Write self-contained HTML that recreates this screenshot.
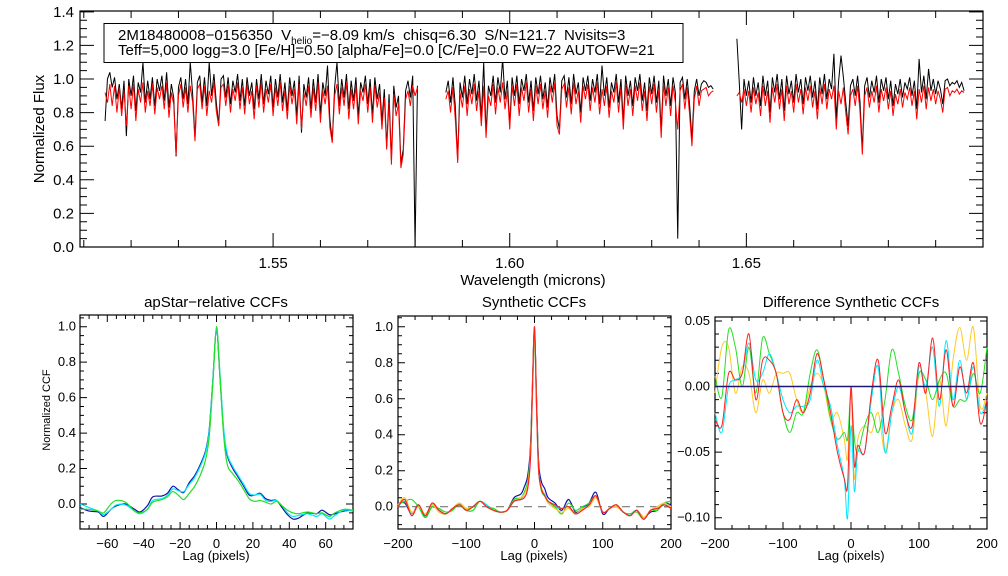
<!DOCTYPE html>
<html><head><meta charset="utf-8"><style>
html,body{margin:0;padding:0;background:#fff}
svg{display:block;font-family:"Liberation Sans",Helvetica,Arial,sans-serif}
</style></head><body>
<svg id="chart" width="1008" height="576" viewBox="0 0 1008 576" xmlns="http://www.w3.org/2000/svg">
<rect x="0" y="0" width="1008" height="576" fill="#fff"/>
<g id="top"></g>
<g id="p1"></g>
<g id="p2"></g>
<g id="p3"></g>
</svg>
<script>
// ---- spectrum data (flux x100), step 0.0005 micron ----
const chipStarts = [1.5145, 1.5865, 1.6480];
const waveStep = 0.0005;
const chip1Model = [92,86,97,84,96,80,95,78,93,72,96,82,97,75,94,86,98,80,93,84,97,79,95,88,96,82,98,77,92,85,55,90,97,83,95,80,96,86,63,94,97,82,96,78,93,86,98,81,72,95,97,84,96,80,94,87,98,82,95,79,97,85,93,76,96,83,98,80,94,86,97,78,95,84,98,81,93,76,96,85,94,73,97,70,92,84,96,77,95,81,98,74,93,85,96,71,62,90,97,79,95,84,98,76,94,82,96,73,93,87,97,80,95,74,96,83,92,70,89,58,86,49,91,78,85,47,55,88,93,84,96,90,95];
const chip1Obs = [75,100,104,95,101,88,97,82,99,66,100,90,102,81,98,92,110,86,99,88,101,84,100,93,102,87,104,83,97,89,54,95,101,88,100,85,110,91,65,98,102,86,101,84,110,90,103,86,73,100,102,89,101,85,99,92,103,87,100,84,101,90,98,82,100,88,103,85,99,91,102,83,100,89,103,86,98,81,101,90,99,78,102,68,97,89,101,82,100,86,103,79,98,90,108,76,63,95,110,84,100,89,103,82,99,87,101,78,98,92,102,85,100,79,101,88,97,75,94,60,91,52,96,83,90,50,58,93,99,89,102,0,96];
const chip2Model = [88,93,80,95,76,50,92,83,96,78,94,85,97,81,93,72,96,65,90,84,97,79,95,86,98,82,93,70,96,84,97,78,95,87,98,80,94,75,96,85,97,82,93,77,96,86,98,72,67,94,97,83,95,79,98,85,93,74,96,88,97,81,95,86,98,79,94,84,96,77,93,86,98,80,95,70,97,84,94,78,96,87,98,81,93,75,96,85,97,80,94,65,97,84,95,78,96,86,70,93,97,82,95,79,60,88,96,84,93,94,95,90,92,93];
const chip2Obs = [92,99,86,101,84,52,98,89,102,85,100,91,103,87,99,77,110,68,96,90,102,86,101,92,112,88,99,73,101,90,102,85,100,93,103,86,99,81,101,91,102,88,98,83,101,92,103,78,70,99,102,89,101,85,103,91,98,80,101,93,102,87,100,92,103,85,108,90,101,83,98,92,103,86,100,75,102,90,99,84,101,93,103,87,98,81,101,91,102,86,99,70,102,90,100,84,101,92,5,98,101,88,100,85,64,93,100,90,97,99,98,95,96,94];
const chip3Model = [90,92,86,94,84,93,80,95,85,92,78,96,84,93,74,95,86,97,82,94,75,96,85,93,80,97,86,94,79,95,87,96,83,93,76,95,85,97,82,94,88,96,70,93,85,95,80,67,90,94,84,96,81,55,90,95,83,93,86,96,80,94,87,95,82,93,78,91,85,94,83,92,88,95,84,93,76,94,86,96,82,95,87,94,85,93,88,80,94,95,90,93,92,94,91,93,92];
const chip3Obs = [124,98,70,100,90,99,86,101,90,98,84,102,90,99,80,101,92,103,88,100,81,102,91,99,86,103,92,100,85,101,93,102,89,99,82,101,91,103,88,100,94,115,76,99,114,101,86,72,96,100,90,102,87,58,96,101,89,99,92,102,86,100,93,101,88,99,84,97,91,100,89,98,94,101,90,99,82,112,92,102,88,106,93,100,91,99,94,85,99,100,96,98,97,99,95,98,93];
const topXTicks = ["1.55","1.60","1.65"];
const topYTicks = ["0.0","0.2","0.4","0.6","0.8","1.0","1.2","1.4"];

// ---- apStar-relative CCFs ----
const lags1 = [-75,-70,-65,-62,-58,-55,-50,-45,-42,-38,-35,-30,-27,-24,-21,-18,-15,-12,-9,-6,-4,-2,0,2,4,6,9,12,15,18,21,24,27,30,33,36,39,42,45,50,55,58,62,65,70,75];
const ccf1Blue = [-0.02,-0.04,-0.045,-0.07,-0.03,-0.01,0.0,-0.03,-0.045,-0.01,0.04,0.045,0.06,0.10,0.08,0.065,0.12,0.16,0.22,0.30,0.42,0.70,0.98,0.70,0.40,0.27,0.20,0.15,0.10,0.05,0.05,0.06,0.03,0.02,0.02,-0.02,-0.06,-0.085,-0.08,-0.05,-0.055,-0.035,-0.06,-0.055,-0.04,-0.035];
const ccf1Cyan = [0.0,-0.02,-0.04,-0.06,-0.03,-0.005,-0.005,-0.04,-0.055,-0.03,0.02,0.03,0.05,0.085,0.075,0.07,0.11,0.15,0.21,0.29,0.41,0.70,0.99,0.72,0.42,0.28,0.21,0.16,0.11,0.06,0.05,0.055,0.02,0.015,0.02,-0.01,-0.05,-0.07,-0.065,-0.055,-0.07,-0.055,-0.085,-0.065,-0.035,-0.04];
const ccf1Green = [-0.03,-0.03,-0.04,-0.05,0.0,0.02,0.01,-0.04,-0.05,-0.03,0.01,0.025,0.04,0.07,0.05,0.025,0.06,0.10,0.16,0.25,0.38,0.68,1.0,0.70,0.38,0.22,0.17,0.13,0.08,0.03,0.015,0.02,0.01,0.0,0.015,-0.01,-0.035,-0.05,-0.055,-0.045,-0.055,-0.05,-0.07,-0.05,-0.03,-0.035];
const p1XTicks = ["-60","-40","-20","0","20","40","60"];
const p1YTicks = ["0.0","0.2","0.4","0.6","0.8","1.0"];

// ---- Synthetic CCFs ----
const lags2 = [-200,-190,-180,-170,-160,-150,-140,-130,-120,-110,-100,-90,-80,-70,-60,-50,-40,-30,-20,-15,-10,-6,-3,0,3,6,10,15,20,30,40,50,60,70,80,90,100,110,120,130,140,150,160,170,180,190,200];
const ccf2Blue = [0.02,0.02,-0.04,0.01,-0.06,0.0,-0.02,-0.04,-0.01,0.01,-0.01,0.0,0.03,0.0,-0.02,-0.03,-0.02,0.05,0.07,0.11,0.17,0.33,0.68,0.98,0.6,0.25,0.14,0.1,0.05,0.02,-0.02,0.04,-0.03,-0.01,0.02,0.08,-0.04,-0.01,0.0,-0.03,-0.05,-0.02,-0.06,-0.03,-0.02,0.02,0.01];
const ccf2Cyan = [0.0,0.03,-0.04,0.01,-0.05,0.01,-0.02,-0.04,-0.01,0.02,-0.02,0.0,0.03,0.01,-0.02,-0.03,-0.02,0.03,0.04,0.07,0.12,0.28,0.62,0.96,0.55,0.2,0.1,0.07,0.03,0.0,-0.01,0.0,-0.04,-0.01,0.01,0.06,-0.03,-0.01,0.01,-0.03,-0.04,-0.02,-0.07,-0.02,-0.01,0.01,0.0];
const ccf2Green = [0.01,0.03,0.04,0.0,-0.06,0.0,-0.01,-0.03,-0.02,0.02,-0.02,-0.02,0.03,0.0,-0.01,-0.03,-0.02,0.04,0.05,0.08,0.14,0.3,0.66,0.97,0.58,0.22,0.09,0.06,0.03,0.0,-0.04,0.02,-0.02,0.0,0.02,0.06,-0.03,-0.01,0.01,-0.03,-0.04,-0.03,-0.07,-0.02,-0.02,0.02,0.03];
const ccf2Yellow = [0.01,0.05,-0.03,0.0,-0.04,0.01,-0.03,-0.04,-0.01,0.02,-0.01,0.0,0.03,0.0,-0.02,-0.03,-0.02,0.03,0.05,0.07,0.12,0.28,0.64,0.96,0.55,0.21,0.11,0.06,0.02,-0.01,-0.03,-0.01,-0.04,-0.01,0.0,0.05,-0.03,-0.01,0.0,-0.03,-0.05,-0.02,-0.06,-0.02,0.0,0.02,0.0];
const ccf2Red = [0.0,0.04,-0.05,0.01,-0.05,0.02,-0.02,-0.04,-0.01,0.01,-0.02,0.0,0.03,0.0,-0.02,-0.03,-0.02,0.03,0.04,0.05,0.1,0.26,0.65,1.0,0.56,0.21,0.1,0.06,0.03,0.01,-0.01,0.0,-0.04,-0.02,0.01,0.06,-0.03,-0.01,0.01,-0.03,-0.05,-0.02,-0.07,-0.02,-0.01,0.01,-0.01];
const p2XTicks = ["-200","-100","0","100","200"];
const p2YTicks = ["0.0","0.2","0.4","0.6","0.8","1.0"];

// ---- Difference Synthetic CCFs ----
const lags3 = [-200,-190,-180,-170,-160,-150,-140,-130,-120,-110,-100,-90,-80,-70,-60,-50,-40,-30,-20,-10,-5,0,5,10,20,30,40,50,60,70,80,90,100,110,120,130,140,150,160,170,180,190,200];
const diffCyan = [-0.02,-0.035,0.0,0.005,0.01,0.033,0.005,0.01,0.025,0.01,-0.01,-0.02,-0.015,-0.015,-0.01,0.02,0.0,-0.015,-0.045,-0.07,-0.10,-0.03,-0.08,-0.05,-0.05,-0.01,0.015,-0.05,-0.02,0.0,-0.02,-0.035,0.015,0.0,0.03,-0.015,0.035,-0.01,0.02,-0.01,0.015,-0.02,-0.01];
const diffGreen = [0.008,-0.008,0.043,0.03,0.0,0.03,-0.005,0.037,0.025,0.01,-0.02,-0.035,-0.02,-0.02,0.01,0.028,0.005,-0.025,-0.04,-0.035,-0.04,-0.005,-0.04,-0.05,-0.03,-0.02,-0.035,-0.01,0.028,0.01,-0.015,-0.025,0.01,0.005,-0.01,0.005,0.01,-0.015,-0.01,-0.01,0.01,-0.005,0.03];
const diffYellow = [-0.005,0.03,0.03,-0.005,0.015,0.01,-0.02,0.005,-0.005,0.01,0.01,0.01,-0.01,-0.02,0.0,0.01,0.0,-0.025,-0.02,-0.04,-0.055,-0.005,-0.07,-0.04,-0.03,-0.035,-0.02,-0.05,-0.02,-0.01,-0.03,-0.04,0.01,-0.005,-0.038,0.005,-0.03,0.02,0.045,0.02,0.045,-0.015,-0.005];
const diffRed = [-0.025,-0.03,0.01,0.005,0.01,0.04,-0.01,0.02,0.02,0.01,-0.02,-0.025,-0.01,-0.02,-0.005,0.025,0.005,-0.02,-0.05,-0.07,-0.075,0.0,-0.06,-0.045,-0.05,-0.005,0.02,-0.035,-0.015,0.005,-0.02,-0.03,0.018,-0.005,0.037,-0.01,0.028,-0.015,0.015,-0.005,0.018,-0.028,-0.01];
const p3XTicks = ["-200","-100","0","100","200"];
const p3YTicks = ["-0.10","-0.05","0.00","0.05"];

const NS = "http://www.w3.org/2000/svg";
function mk(parent, tag, attrs){ const e=document.createElementNS(NS,tag); for(const k in attrs) e.setAttribute(k,attrs[k]); parent.appendChild(e); return e; }
function scale(d0,d1,r0,r1){ return v => r0 + (v-d0)/(d1-d0)*(r1-r0); }

function frame(g, box, xr, yr, xMajor, xMinor, yMajor, yMinor, majLen, minLen){
  const sx=scale(xr[0],xr[1],box.l,box.r), sy=scale(yr[0],yr[1],box.b,box.t);
  const r=mk(g,'rect',{x:box.l,y:box.t,width:box.r-box.l,height:box.b-box.t,fill:'none',stroke:'#000','stroke-width':1.2});
  
  
  let d='';
  const eps=1e-9;
  const startX=Math.ceil((xr[0]-eps)/xMinor)*xMinor;
  for(let v=startX; v<=xr[1]+eps; v+=xMinor){
    const isMaj=Math.abs(v/xMajor-Math.round(v/xMajor))<1e-6;
    const L=isMaj?majLen:minLen, x=sx(v).toFixed(2);
    d+=`M${x},${box.b}v${-L}M${x},${box.t}v${L}`;
  }
  const startY=Math.ceil((yr[0]-eps)/yMinor)*yMinor;
  for(let v=startY; v<=yr[1]+eps; v+=yMinor){
    const isMaj=Math.abs(v/yMajor-Math.round(v/yMajor))<1e-6;
    const L=isMaj?majLen:minLen, y=sy(v).toFixed(2);
    d+=`M${box.l},${y}h${L}M${box.r},${y}h${-L}`;
  }
  const t=mk(g,'path',{d:d,stroke:'#000','stroke-width':1,fill:'none'});
  
  
  return {sx,sy};
}
function label(g, x, y, txt, size, anchor, name, rot){
  const t=mk(g,'text',{x:x,y:y,'font-size':size,'text-anchor':anchor||'middle',fill:'#000'});
  if(rot) t.setAttribute('transform',`rotate(-90 ${x} ${y})`);
  t.textContent=txt;
  
  
  return t;
}
function smoothPath(xs, ys){
  let d=`M${xs[0].toFixed(2)},${ys[0].toFixed(2)}`;
  for(let i=0;i<xs.length-1;i++){
    const x0=xs[Math.max(0,i-1)],y0=ys[Math.max(0,i-1)],x1=xs[i],y1=ys[i],x2=xs[i+1],y2=ys[i+1],x3=xs[Math.min(xs.length-1,i+2)],y3=ys[Math.min(xs.length-1,i+2)];
    const c1x=x1+(x2-x0)/6,c1y=y1+(y2-y0)/6,c2x=x2-(x3-x1)/6,c2y=y2-(y3-y1)/6;
    d+=`C${c1x.toFixed(2)},${c1y.toFixed(2)} ${c2x.toFixed(2)},${c2y.toFixed(2)} ${x2.toFixed(2)},${y2.toFixed(2)}`;
  }
  return d;
}
function curve(g, ax, xs, vals, color, name, w){
  const p=mk(g,'path',{d:smoothPath(xs.map(ax.sx),vals.map(ax.sy)),stroke:color,'stroke-width':w||1.2,fill:'none','stroke-linejoin':'round'});
  
  
}

// ===== top spectrum panel =====
(function(){
  const g=document.getElementById('top');
  const box={l:80,r:983,t:11,b:247};
  const ax=frame(g,box,[1.5092,1.7000],[0,1.405],0.05,0.01,0.2,0.05,14,7);
  const obs=[chip1Obs,chip2Obs,chip3Obs], mod=[chip1Model,chip2Model,chip3Model];
  function draw(arr, ci, color, name){
    let d='';
    arr.forEach((v,i)=>{ const x=ax.sx(chipStarts[ci]+i*waveStep).toFixed(2), y=ax.sy(v/100).toFixed(2); d+=(i?'L':'M')+x+','+y; });
    const p=mk(g,'path',{d:d,stroke:color,'stroke-width':1,fill:'none','stroke-linejoin':'miter'});
    
    
  }
  obs.forEach((a,i)=>draw(a,i,'#000','observed-spectrum-chip'+(i+1)));
  mod.forEach((a,i)=>draw(a,i,'#ff0000','model-spectrum-chip'+(i+1)));
  topXTicks.forEach(t=>label(g,ax.sx(parseFloat(t)),268,t,15,'middle','x-tick-label'));
  topYTicks.forEach(t=>label(g,74,ax.sy(parseFloat(t))+5,t,15,'end','y-tick-label'));
  label(g,533,285,'Wavelength (microns)',15,'middle','x-axis-title');
  label(g,44,129,'Normalized Flux',15,'middle','y-axis-title',true);
  const b=mk(g,'rect',{x:104,y:23.5,width:579,height:39,fill:'#fff',stroke:'#000','stroke-width':1});
  
  
  const t1=mk(g,'text',{x:118,y:40,'font-size':15,fill:'#000'});
  
  
  t1.innerHTML='2M18480008\u22120156350  V<tspan font-size="10" dy="4">helio</tspan><tspan dy="-4">=\u22128.09 km/s  chisq=6.30  S/N=121.7  Nvisits=3</tspan>';
  t1.setAttribute('xml:space','preserve');
  t1.style.whiteSpace='pre';
  const t2=mk(g,'text',{x:118,y:55,'font-size':15,fill:'#000'});
  t2.textContent='Teff=5,000 logg=3.0 [Fe/H]=0.50 [alpha/Fe]=0.0 [C/Fe]=0.0 FW=22 AUTOFW=21';
  
  
})();

// ===== panel 1 =====
(function(){
  const g=document.getElementById('p1');
  const box={l:80,r:353,t:315,b:529};
  const ax=frame(g,box,[-75,75],[-0.141,1.066],20,5,0.2,0.05,7,4);
  curve(g,ax,lags1,ccf1Blue,'#1010a0','ccf-blue');
  curve(g,ax,lags1,ccf1Cyan,'#00e8ff','ccf-cyan');
  curve(g,ax,lags1,ccf1Green,'#22e022','ccf-green');
  p1XTicks.forEach(t=>label(g,ax.sx(parseFloat(t)),548,t.replace('-','\u2212'),13,'middle','x-tick-label'));
  p1YTicks.forEach(t=>label(g,76,ax.sy(parseFloat(t))+4,t,13,'end','y-tick-label'));
  label(g,216,307,'apStar\u2212relative CCFs',15,'middle','panel-title');
  label(g,216,560,'Lag (pixels)',13,'middle','x-axis-title');
  label(g,50,410,'Normalized CCF',11,'middle','y-axis-title',true);
})();

// ===== panel 2 =====
(function(){
  const g=document.getElementById('p2');
  const box={l:398,r:671,t:316,b:529};
  const ax=frame(g,box,[-200,200],[-0.124,1.06],100,25,0.2,0.05,7,4);
  const z=mk(g,'line',{x1:box.l,x2:box.r,y1:ax.sy(0),y2:ax.sy(0),stroke:'#777','stroke-width':1.2,'stroke-dasharray':'8,6'});
  
  
  curve(g,ax,lags2,ccf2Blue,'#1010b0','ccf-blue');
  curve(g,ax,lags2,ccf2Cyan,'#00e8ff','ccf-cyan');
  curve(g,ax,lags2,ccf2Green,'#22e022','ccf-green');
  curve(g,ax,lags2,ccf2Yellow,'#ffc828','ccf-yellow');
  curve(g,ax,lags2,ccf2Red,'#ff2020','ccf-red');
  p2XTicks.forEach(t=>label(g,ax.sx(parseFloat(t)),548,t.replace('-','\u2212'),13,'middle','x-tick-label'));
  p2YTicks.forEach(t=>label(g,393,ax.sy(parseFloat(t))+4,t,13,'end','y-tick-label'));
  label(g,534,307,'Synthetic CCFs',15,'middle','panel-title');
  label(g,534,560,'Lag (pixels)',13,'middle','x-axis-title');
})();

// ===== panel 3 =====
(function(){
  const g=document.getElementById('p3');
  const box={l:715,r:987,t:317,b:529};
  const ax=frame(g,box,[-200,200],[-0.1086,0.053],100,25,0.05,0.01,7,4);
  curve(g,ax,lags3,diffYellow,'#ffc828','diff-yellow',1);
  curve(g,ax,lags3,diffGreen,'#22e022','diff-green',1);
  curve(g,ax,lags3,diffCyan,'#00e8ff','diff-cyan',1);
  curve(g,ax,lags3,diffRed,'#ff2020','diff-red',1);
  const z=mk(g,'line',{x1:box.l,x2:box.r,y1:ax.sy(0),y2:ax.sy(0),stroke:'#1a1a70','stroke-width':1.5});
  
  
  p3XTicks.forEach(t=>label(g,ax.sx(parseFloat(t)),548,t.replace('-','\u2212'),13,'middle','x-tick-label'));
  p3YTicks.forEach(t=>label(g,710,ax.sy(parseFloat(t))+4,t.replace('-','\u2212'),13,'end','y-tick-label'));
  label(g,851,307,'Difference Synthetic CCFs',15,'middle','panel-title');
  label(g,851,560,'Lag (pixels)',13,'middle','x-axis-title');
})();
</script>
</body></html>
